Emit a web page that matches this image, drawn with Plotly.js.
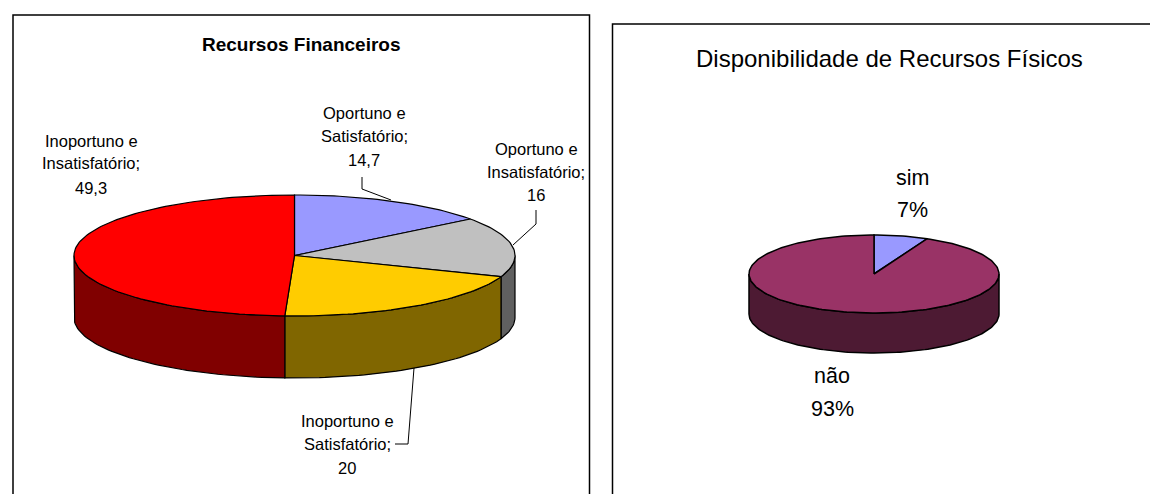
<!DOCTYPE html>
<html>
<head>
<meta charset="utf-8">
<script src="https://cdn.plot.ly/plotly-3.0.1.min.js"></script>
<style>html,body{margin:0;padding:0;background:#fff;overflow:hidden}#c{width:1150px;height:494px}</style>
</head>
<body>
<div id="c"></div>
<script>
// Data
const finCategories = ["Oportuno e Satisfatório", "Oportuno e Insatisfatório", "Inoportuno e Satisfatório", "Inoportuno e Insatisfatório"];
const finValues = [14.7, 16, 20, 49.3];
const finColors = ["#9999FF", "#C0C0C0", "#FFCC00", "#FF0000"];
const finSideColors = ["#4D4D80", "#606060", "#806600", "#800000"];
const fisCategories = ["sim", "não"];
const fisValues = [7, 93];
const fisColors = ["#9999FF", "#993366"];
const fisSideColors = ["#4D4D80", "#4D1A33"];

const FONT = "Liberation Sans, Arial, sans-serif";

function pie3d(values, names, cols, sides, g, lw) {
  const total = values.reduce((a, b) => a + b, 0);
  const pt = (deg, dy) => [g.cx + g.rx * Math.sin(deg * Math.PI / 180), g.cy - g.ry * Math.cos(deg * Math.PI / 180) + dy];
  const arc = (a, b, dy) => {
    const n = Math.max(2, Math.ceil(Math.abs(b - a) / 1.5));
    const out = [];
    for (let i = 0; i <= n; i++) out.push(pt(a + (b - a) * i / n, dy));
    return out;
  };
  const walls = [], tops = [];
  let start = 0;
  values.forEach((v, i) => {
    const end = start + v / total * 360;
    const a = Math.max(start, 90), b = Math.min(end, 270);
    if (b > a) {
      const poly = arc(a, b, 0).concat(arc(b, a, g.depth));
      poly.push(poly[0]);
      walls.push({x: poly.map(p => p[0]), y: poly.map(p => p[1]), type: "scatter", mode: "lines", fill: "toself",
        fillcolor: sides[i], line: {color: "#000", width: lw}, hoverinfo: "skip", showlegend: false});
    }
    const top = [[g.cx, g.cy]].concat(arc(start, end, 0));
    top.push([g.cx, g.cy]);
    tops.push({x: top.map(p => p[0]), y: top.map(p => p[1]), type: "scatter", mode: "lines", fill: "toself",
      fillcolor: cols[i], line: {color: "#000", width: lw}, name: names[i], text: names[i] + ": " + String(v).replace(".", ","),
      hoverinfo: "text", showlegend: false});
    start = end;
  });
  return walls.concat(tops);
}

const traces = [].concat(
  pie3d(finValues, finCategories, finColors, finSideColors, {cx: 294.5, cy: 255.5, rx: 220.5, ry: 60.5, depth: 62}, 1.2),
  pie3d(fisValues, fisCategories, fisColors, fisSideColors, {cx: 874, cy: 274, rx: 125, ry: 39, depth: 40}, 1.5)
);

function textBlock(lines, x, ys, size, weight) {
  return lines.map((t, i) => ({
    text: weight ? "<b>" + t + "</b>" : t, x: x, y: ys[i], xref: "x", yref: "y", showarrow: false,
    xanchor: "center", yanchor: "middle", font: {family: FONT, size: size, color: "#000"}
  }));
}

const annotations = [].concat(
  textBlock(["Recursos Financeiros"], 301, [44], 19, true),
  textBlock(["Oportuno e", "Satisfatório;", String(finValues[0]).replace(".", ",")], 364, [113, 136, 160], 16.5),
  textBlock(["Oportuno e", "Insatisfatório;", String(finValues[1])], 536, [149, 172, 195], 16.5),
  textBlock(["Inoportuno e", "Satisfatório;", String(finValues[2])], 347, [421, 444, 468], 16.5),
  textBlock(["Inoportuno e", "Insatisfatório;", String(finValues[3]).replace(".", ",")], 91, [141, 163, 188], 16.5),
  textBlock(["Disponibilidade de Recursos Físicos"], 889, [58], 24),
  textBlock(["sim", fisValues[0] + "%"], 912, [178, 210], 21.5),
  textBlock(["não", fisValues[1] + "%"], 832, [376, 409], 21.5)
);

const leader = d => ({type: "path", path: d, xref: "x", yref: "y", line: {color: "#000", width: 1}});
const shapes = [
  {type: "rect", xref: "x", yref: "y", x0: 13, x1: 589.5, y0: 15, y1: 520, line: {color: "#000", width: 1.5}, fillcolor: "rgba(0,0,0,0)", layer: "below"},
  {type: "rect", xref: "x", yref: "y", x0: 612.5, x1: 1170, y0: 24, y1: 520, line: {color: "#000", width: 1.5}, fillcolor: "rgba(0,0,0,0)", layer: "below"},
  leader("M362,177 L362,189 L391,200"),
  leader("M536,210 L536,224 L513,245"),
  leader("M414,368 L408,444 L395,444")
];

const hidden = {visible: false, fixedrange: true};
Plotly.newPlot("c", traces, {
  width: 1150, height: 494,
  margin: {l: 0, r: 0, t: 0, b: 0},
  paper_bgcolor: "#fff", plot_bgcolor: "#fff",
  xaxis: Object.assign({range: [0, 1150]}, hidden),
  yaxis: Object.assign({range: [494, 0]}, hidden),
  annotations: annotations,
  shapes: shapes,
  showlegend: false
}, {displayModeBar: false, staticPlot: false});
</script>
</body>
</html>
